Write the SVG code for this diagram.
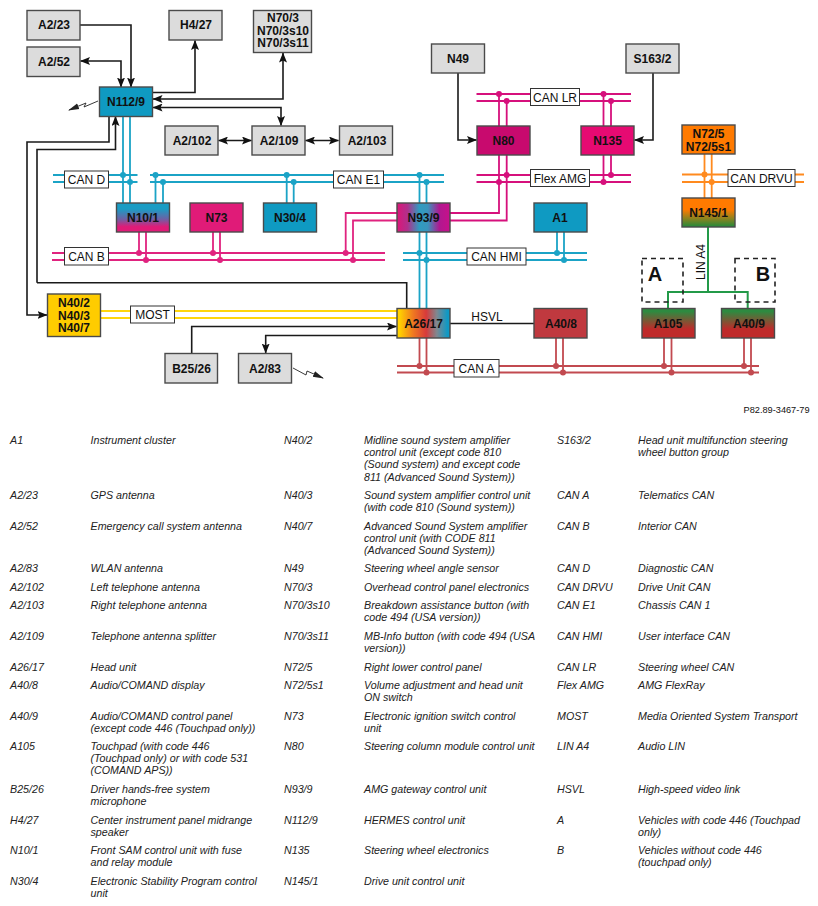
<svg xmlns="http://www.w3.org/2000/svg" width="818" height="906" viewBox="0 0 818 906">
<style>
text{font-family:"Liberation Sans",Arial,sans-serif;fill:#111}
.n rect{stroke:#4a4a4a;stroke-width:1.4}
.n text{font-size:12px;font-weight:bold;text-anchor:middle}
.g{fill:#dcdcdc}
.k{fill:none;stroke:#1a1a1a;stroke-width:1.6}
.a{marker-end:url(#ah)}
.aa{marker-start:url(#ah);marker-end:url(#ah)}
.c,.p,.y,.o,.r,.v,.gr{fill:none;stroke-width:1.8}
.c{stroke:#1ba3c6}.p{stroke:#e0237f}.v{stroke:#d6107c}.y{stroke:#ffd60a}.o{stroke:#ff8a1e}.r{stroke:#c24a50}.gr{stroke:#239a48;stroke-width:2}
.dc{fill:#1ba3c6}.dp{fill:#e0237f}.dv{fill:#d6107c}.do{fill:#ff8a1e}.dr{fill:#c24a50}
.l rect{fill:#fff;stroke:#333;stroke-width:1}
.l text{font-size:12px;text-anchor:middle}
.d{fill:none;stroke:#222;stroke-width:1.6;stroke-dasharray:5 4}
.t text{font-size:10.7px;font-style:italic;fill:#222}
</style>
<defs>
<marker id="ah" markerUnits="userSpaceOnUse" markerWidth="11" markerHeight="8" refX="9.5" refY="4" orient="auto-start-reverse"><path d="M0 0L10 4L0 8L2 4Z" fill="#111"/></marker>
<marker id="bolt" markerUnits="userSpaceOnUse" markerWidth="12" markerHeight="8" refX="10" refY="4" orient="auto"><path d="M0 1L11 4L0 7Z" fill="#222"/></marker>
<linearGradient id="g10" x1="0" y1="0" x2="0" y2="1"><stop offset="0.2" stop-color="#1a9cc4"/><stop offset="0.55" stop-color="#6a62a6"/><stop offset="0.82" stop-color="#e01b78"/></linearGradient>
<linearGradient id="g93"><stop offset="0" stop-color="#dc1678"/><stop offset="0.2" stop-color="#b0308c"/><stop offset="0.42" stop-color="#2f9cc0"/><stop offset="0.58" stop-color="#3a94bc"/><stop offset="0.8" stop-color="#b01890"/><stop offset="1" stop-color="#c8108a"/></linearGradient>
<linearGradient id="g26"><stop offset="0.05" stop-color="#ffd000"/><stop offset="0.3" stop-color="#f07a20"/><stop offset="0.55" stop-color="#d83a3a"/><stop offset="0.75" stop-color="#808890"/><stop offset="0.95" stop-color="#1099c4"/></linearGradient>
<linearGradient id="g145" x1="0" y1="0" x2="0" y2="1"><stop offset="0.4" stop-color="#ff7a00"/><stop offset="1" stop-color="#1f8a3c"/></linearGradient>
<linearGradient id="gAB" x1="0" y1="0" x2="0" y2="1"><stop offset="0.1" stop-color="#2e8a40"/><stop offset="0.7" stop-color="#bf2a2a"/></linearGradient>
</defs>

<g id="connectors">
<!-- black signal lines -->
<path class="k a" d="M80 25H131V87"/>
<path class="k aa" d="M80.500 61H121V87"/>
<path class="k a" d="M152.500 92.500H195V40.500"/>
<path class="k aa" d="M153 99H283V53"/>
<path class="k aa" d="M153 107.500H281V125.500"/>
<path class="k aa" d="M218.500 140.500H251.500"/>
<path class="k aa" d="M305.500 140.500H338.500"/>
<path class="k a" d="M109 116V142H27V315H47"/>
<path class="k a" d="M37 282.700V149.500H115.500V116.500"/>
<path class="k" d="M37 282.700H406.700V308"/>
<path class="k a" d="M458 73V140H476.500"/>
<path class="k a" d="M653 73V140H634.500"/>
<path class="k a" d="M191.700 353V326.500H396.500"/>
<path class="k a" d="M397 335.500H265.700V353"/>
<path class="k" d="M450 323.500H534" stroke-width="1.200"/>
<path fill="none" stroke="#222" stroke-width="0.900" marker-end="url(#bolt)" d="M98 101L84 107L86 103L69 110"/>
<path fill="none" stroke="#222" stroke-width="0.900" marker-end="url(#bolt)" d="M293 368L306 375L307 371L323 378"/>
<!-- CAN D / CAN E1 -->
<path class="c" d="M53 175H137.500M53 182H137.500M150 175H444M150 182H444"/>
<path class="c" d="M123 116V203M130 116V203M155.500 175V203M163 182V203M286.700 175V203M293.700 182V203"/>
<path class="c" d="M419.500 175V308M426.500 182V308"/>
<g class="dc"><circle cx="123" cy="175" r="3"/><circle cx="130" cy="182" r="3"/><circle cx="155.500" cy="175" r="3"/><circle cx="163" cy="182" r="3"/><circle cx="286.700" cy="175" r="3"/><circle cx="293.700" cy="182" r="3"/><circle cx="419.500" cy="175" r="3"/><circle cx="426.500" cy="182" r="3"/></g>
<!-- CAN HMI -->
<path class="c" d="M403 253H587M403 260H587M557 232V253M564 232V260"/>
<g class="dc"><circle cx="419.500" cy="253" r="3"/><circle cx="426.500" cy="260" r="3"/><circle cx="557" cy="253" r="3"/><circle cx="564" cy="260" r="3"/></g>
<!-- CAN B -->
<path class="p" d="M52 253H385M52 260H385M139 232V253M146 232V260M213 232V253M220 232V260M345.700 253V213H397M353 260V220.500H397"/>
<g class="dp"><circle cx="139" cy="253" r="3"/><circle cx="146" cy="260" r="3"/><circle cx="213" cy="253" r="3"/><circle cx="220" cy="260" r="3"/><circle cx="345.700" cy="253" r="3"/><circle cx="353" cy="260" r="3"/></g>
<!-- Flex AMG / CAN LR -->
<path class="v" d="M450 213H499V155M450 220.500H506.700V155M476.500 175H631M476.500 182H631M476.500 94H631M476.500 101H631"/>
<path class="v" d="M499 94V126M506.700 101V126M603.500 94V126M611 101V126M603.500 155V182M611 155V175"/>
<g class="dv"><circle cx="499" cy="94" r="3"/><circle cx="506.700" cy="101" r="3"/><circle cx="603.500" cy="94" r="3"/><circle cx="611" cy="101" r="3"/><circle cx="506.700" cy="175" r="3"/><circle cx="499" cy="182" r="3"/><circle cx="611" cy="175" r="3"/><circle cx="603.500" cy="182" r="3"/></g>
<!-- CAN DRVU -->
<path class="o" d="M682 174.500H804M682 182H804M704.500 154V198M711.700 154V198"/>
<g class="do"><circle cx="704.500" cy="174.500" r="3"/><circle cx="711.700" cy="182" r="3"/></g>
<!-- LIN A4 -->
<path class="gr" d="M708 227V292M668 308V292H747.700V308"/>
<!-- MOST -->
<path class="y" d="M100 311H397M100 318H397"/>
<!-- CAN A -->
<path class="r" d="M397 366H759M397 372.500H759M419.500 338V366M426.500 338V372.500M556 338V366M563 338V372.500M664 338V366M671.500 338V372.500M744 338V366M751 338V372.500"/>
<g class="dr"><circle cx="419.500" cy="366" r="3"/><circle cx="426.500" cy="372.500" r="3"/><circle cx="556" cy="366" r="3"/><circle cx="563" cy="372.500" r="3"/><circle cx="664" cy="366" r="3"/><circle cx="671.500" cy="372.500" r="3"/><circle cx="744" cy="366" r="3"/><circle cx="751" cy="372.500" r="3"/></g>
<!-- bus labels -->
<g class="l">
<rect x="64.500" y="171" width="44" height="17"/><text x="86.500" y="184">CAN D</text>
<rect x="333.500" y="171" width="50" height="17"/><text x="358.500" y="184">CAN E1</text>
<rect x="64.500" y="247.500" width="44" height="17.500"/><text x="86.500" y="260.500">CAN B</text>
<rect x="467" y="248" width="59" height="17"/><text x="496.500" y="261">CAN HMI</text>
<rect x="530.500" y="88.500" width="49" height="17"/><text x="555" y="101.500">CAN LR</text>
<rect x="530.500" y="169.500" width="59" height="17"/><text x="560" y="182.500">Flex AMG</text>
<rect x="728" y="169.500" width="67" height="17"/><text x="761.500" y="182.500">CAN DRVU</text>
<rect x="130.500" y="306" width="44" height="17"/><text x="152.500" y="319">MOST</text>
<rect x="454" y="359.500" width="45" height="17.500"/><text x="476.500" y="372.500">CAN A</text>
<text x="487" y="320.500">HSVL</text>
<text transform="translate(705 262) rotate(-90)">LIN A4</text>
</g>
</g>

<g id="option-A"><rect class="d" x="642" y="258.500" width="41" height="43.500"/><text x="655" y="281" font-size="20" font-weight="bold" text-anchor="middle">A</text></g>
<g id="option-B"><rect class="d" x="735" y="258.500" width="40" height="43.500"/><text x="763" y="281" font-size="20" font-weight="bold" text-anchor="middle">B</text></g>

<g id="A2-23" class="n"><rect class="g" x="27" y="10.500" width="53" height="29.500"/><text x="54" y="29">A2/23</text></g>
<g id="A2-52" class="n"><rect class="g" x="27" y="47" width="53" height="29.500"/><text x="54" y="66">A2/52</text></g>
<g id="H4-27" class="n"><rect class="g" x="169" y="10.500" width="53" height="29.500"/><text x="196" y="29">H4/27</text></g>
<g id="N70" class="n"><rect class="g" x="253.500" y="10.500" width="58" height="42"/><text x="283" y="22">N70/3</text><text x="283" y="34.700">N70/3s10</text><text x="283" y="47.400">N70/3s11</text></g>
<g id="N112-9" class="n"><rect fill="#0f9ac2" x="99.500" y="87" width="53" height="29.500"/><text x="126" y="106">N112/9</text></g>
<g id="A2-102" class="n"><rect class="g" x="165" y="126" width="53" height="29"/><text x="192" y="144.500">A2/102</text></g>
<g id="A2-109" class="n"><rect class="g" x="252" y="126" width="53" height="29"/><text x="279" y="144.500">A2/109</text></g>
<g id="A2-103" class="n"><rect class="g" x="339.500" y="126" width="53" height="29"/><text x="367" y="144.500">A2/103</text></g>
<g id="N49" class="n"><rect class="g" x="431.500" y="44" width="53" height="29"/><text x="458" y="63">N49</text></g>
<g id="S163-2" class="n"><rect class="g" x="626" y="44" width="53" height="29"/><text x="652.500" y="63">S163/2</text></g>
<g id="N80" class="n"><rect fill="#c80a6e" x="477" y="126" width="53" height="29"/><text x="503.500" y="144.500">N80</text></g>
<g id="N135" class="n"><rect fill="#e60a72" x="581" y="126" width="53" height="29"/><text x="607.500" y="145">N135</text></g>
<g id="N72" class="n"><rect fill="#ff7a00" x="682" y="125" width="53" height="29"/><text x="708.500" y="138">N72/5</text><text x="708.500" y="151">N72/5s1</text></g>
<g id="N145-1" class="n"><rect fill="url(#g145)" x="682" y="198" width="53" height="29"/><text x="708.500" y="216.500">N145/1</text></g>
<g id="N10-1" class="n"><rect fill="url(#g10)" x="116.500" y="203" width="53" height="29"/><text x="143" y="221.500">N10/1</text></g>
<g id="N73" class="n"><rect fill="#e01b78" x="190" y="203" width="53" height="29"/><text x="216.500" y="221.500">N73</text></g>
<g id="N30-4" class="n"><rect fill="#0f9ac2" x="263.500" y="203" width="53" height="29"/><text x="290" y="221.500">N30/4</text></g>
<g id="N93-9" class="n"><rect fill="url(#g93)" x="397" y="203" width="53" height="29"/><text x="423.500" y="221.500">N93/9</text></g>
<g id="A1" class="n"><rect fill="#0f9ac2" x="534" y="203" width="53" height="29"/><text x="560" y="221.500">A1</text></g>
<g id="N40" class="n"><rect fill="#ffcc00" x="47.500" y="294" width="53" height="42.500"/><text x="74" y="307">N40/2</text><text x="74" y="319.500">N40/3</text><text x="74" y="332">N40/7</text></g>
<g id="A26-17" class="n"><rect fill="url(#g26)" x="397" y="308.500" width="53" height="29.500"/><text x="423.500" y="327.500">A26/17</text></g>
<g id="A40-8" class="n"><rect fill="#c0393f" x="534" y="308.500" width="53" height="29.500"/><text x="561" y="327.500">A40/8</text></g>
<g id="A105" class="n"><rect fill="url(#gAB)" x="642" y="308.500" width="53" height="29.500"/><text x="668" y="327.500">A105</text></g>
<g id="A40-9" class="n"><rect fill="url(#gAB)" x="721.500" y="308.500" width="53" height="29.500"/><text x="749" y="327.500">A40/9</text></g>
<g id="B25-26" class="n"><rect class="g" x="165" y="353.500" width="52.500" height="29.500"/><text x="191.500" y="372.500">B25/26</text></g>
<g id="A2-83" class="n"><rect class="g" x="238.500" y="353.500" width="53" height="29.500"/><text x="265" y="372.500">A2/83</text></g>

<text x="809.500" y="412.700" font-size="9.200" text-anchor="end" fill="#222">P82.89-3467-79</text>

<g id="legend" class="t">
<text x="10" y="444">A1</text><text x="90.500" y="444">Instrument cluster</text>
<text x="10" y="499">A2/23</text><text x="90.500" y="499">GPS antenna</text>
<text x="10" y="530">A2/52</text><text x="90.500" y="530">Emergency call system antenna</text>
<text x="10" y="572">A2/83</text><text x="90.500" y="572">WLAN antenna</text>
<text x="10" y="591">A2/102</text><text x="90.500" y="591">Left telephone antenna</text>
<text x="10" y="609">A2/103</text><text x="90.500" y="609">Right telephone antenna</text>
<text x="10" y="640">A2/109</text><text x="90.500" y="640">Telephone antenna splitter</text>
<text x="10" y="671">A26/17</text><text x="90.500" y="671">Head unit</text>
<text x="10" y="689">A40/8</text><text x="90.500" y="689">Audio/COMAND display</text>
<text x="10" y="720">A40/9</text><text x="90.500" y="720">Audio/COMAND control panel</text><text x="90.500" y="732">(except code 446 (Touchpad only))</text>
<text x="10" y="750">A105</text><text x="90.500" y="750">Touchpad (with code 446</text><text x="90.500" y="762">(Touchpad only) or with code 531</text><text x="90.500" y="774">(COMAND APS))</text>
<text x="10" y="793">B25/26</text><text x="90.500" y="793">Driver hands-free system</text><text x="90.500" y="805">microphone</text>
<text x="10" y="823.500">H4/27</text><text x="90.500" y="823.500">Center instrument panel midrange</text><text x="90.500" y="835.500">speaker</text>
<text x="10" y="854">N10/1</text><text x="90.500" y="854">Front SAM control unit with fuse</text><text x="90.500" y="866">and relay module</text>
<text x="10" y="885">N30/4</text><text x="90.500" y="885">Electronic Stability Program control</text><text x="90.500" y="897">unit</text>

<text x="284" y="444">N40/2</text><text x="364" y="444">Midline sound system amplifier</text><text x="364" y="456">control unit (except code 810</text><text x="364" y="468.300">(Sound system) and except code</text><text x="364" y="480.500">811 (Advanced Sound System))</text>
<text x="284" y="499">N40/3</text><text x="364" y="499">Sound system amplifier control unit</text><text x="364" y="511">(with code 810 (Sound system))</text>
<text x="284" y="530">N40/7</text><text x="364" y="530">Advanced Sound System amplifier</text><text x="364" y="542.200">control unit (with CODE 811</text><text x="364" y="554.400">(Advanced Sound System))</text>
<text x="284" y="572">N49</text><text x="364" y="572">Steering wheel angle sensor</text>
<text x="284" y="591">N70/3</text><text x="364" y="591">Overhead control panel electronics</text>
<text x="284" y="609">N70/3s10</text><text x="364" y="609">Breakdown assistance button (with</text><text x="364" y="621">code 494 (USA version))</text>
<text x="284" y="640">N70/3s11</text><text x="364" y="640">MB-Info button (with code 494 (USA</text><text x="364" y="652">version))</text>
<text x="284" y="671">N72/5</text><text x="364" y="671">Right lower control panel</text>
<text x="284" y="689">N72/5s1</text><text x="364" y="689">Volume adjustment and head unit</text><text x="364" y="701">ON switch</text>
<text x="284" y="720">N73</text><text x="364" y="720">Electronic ignition switch control</text><text x="364" y="732">unit</text>
<text x="284" y="750">N80</text><text x="364" y="750">Steering column module control unit</text>
<text x="284" y="793">N93/9</text><text x="364" y="793">AMG gateway control unit</text>
<text x="284" y="823.500">N112/9</text><text x="364" y="823.500">HERMES control unit</text>
<text x="284" y="854">N135</text><text x="364" y="854">Steering wheel electronics</text>
<text x="284" y="885">N145/1</text><text x="364" y="885">Drive unit control unit</text>

<text x="557" y="444">S163/2</text><text x="638" y="444">Head unit multifunction steering</text><text x="638" y="456">wheel button group</text>
<text x="557" y="499">CAN A</text><text x="638" y="499">Telematics CAN</text>
<text x="557" y="530">CAN B</text><text x="638" y="530">Interior CAN</text>
<text x="557" y="572">CAN D</text><text x="638" y="572">Diagnostic CAN</text>
<text x="557" y="591">CAN DRVU</text><text x="638" y="591">Drive Unit CAN</text>
<text x="557" y="609">CAN E1</text><text x="638" y="609">Chassis CAN 1</text>
<text x="557" y="640">CAN HMI</text><text x="638" y="640">User interface CAN</text>
<text x="557" y="671">CAN LR</text><text x="638" y="671">Steering wheel CAN</text>
<text x="557" y="689">Flex AMG</text><text x="638" y="689">AMG FlexRay</text>
<text x="557" y="720">MOST</text><text x="638" y="720">Media Oriented System Transport</text>
<text x="557" y="750">LIN A4</text><text x="638" y="750">Audio LIN</text>
<text x="557" y="793">HSVL</text><text x="638" y="793">High-speed video link</text>
<text x="557" y="823.500">A</text><text x="638" y="823.500">Vehicles with code 446 (Touchpad</text><text x="638" y="835.500">only)</text>
<text x="557" y="854">B</text><text x="638" y="854">Vehicles without code 446</text><text x="638" y="866">(touchpad only)</text>
</g>
</svg>
